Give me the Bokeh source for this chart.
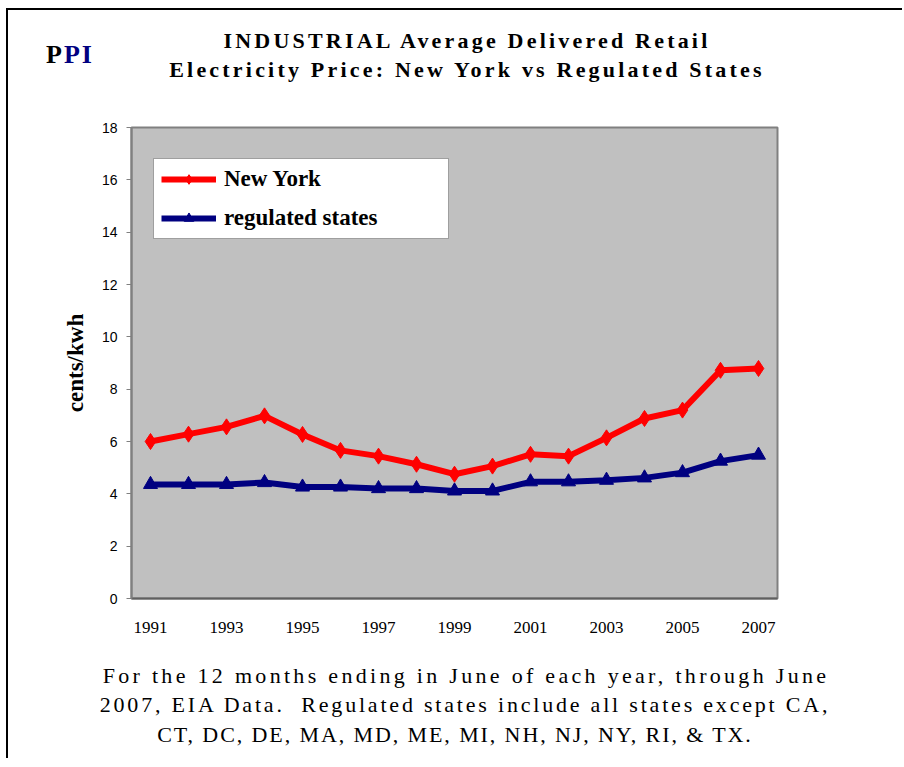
from bokeh.plotting import figure
from bokeh.models import Legend, LegendItem, FixedTicker, Range1d, Div
from bokeh.layouts import column
from bokeh.embed import file_html
from bokeh.resources import INLINE

# ---- data ----
years = [1991, 1992, 1993, 1994, 1995, 1996, 1997, 1998, 1999,
         2000, 2001, 2002, 2003, 2004, 2005, 2006, 2007]
new_york = [6.00, 6.28, 6.56, 6.98, 6.27, 5.66, 5.44, 5.13, 4.75,
            5.06, 5.51, 5.44, 6.14, 6.88, 7.20, 8.72, 8.79]
regulated = [4.36, 4.36, 4.36, 4.43, 4.26, 4.26, 4.20, 4.20, 4.11,
             4.11, 4.46, 4.46, 4.52, 4.61, 4.81, 5.25, 5.48]
x_tick_years = [1991, 1993, 1995, 1997, 1999, 2001, 2003, 2005, 2007]
y_ticks = [0, 2, 4, 6, 8, 10, 12, 14, 16, 18]

series_names = ["New York", "regulated states"]
title_lines = ["INDUSTRIAL Average Delivered Retail",
               "Electricity Price: New York vs Regulated States"]
note_lines = ["For the 12 months ending in June of each year, through June",
              "2007, EIA Data.&nbsp; Regulated states include all states except CA,",
              "CT, DC, DE, MA, MD, ME, MI, NH, NJ, NY, RI, &amp; TX."]

SERIF = "Liberation Serif"
SANS = "Liberation Sans"
W = 884

# ---- header (logo + title) ----
header_html = (
    f'<div style="position:relative;width:{W}px;height:95px;'
    f'font-family:\'{SERIF}\';color:black;">'
    '<div style="position:absolute;left:33px;top:25px;font-size:26px;'
    'line-height:30px;font-weight:bold;letter-spacing:2px;white-space:nowrap;color:#000000;">'
    'P<span style="color:#000080;">PI</span></div>'
    '<div style="position:absolute;left:454px;top:11px;transform:translateX(-50%);'
    'text-align:center;font-size:22px;line-height:29.4px;font-weight:bold;'
    'letter-spacing:3.2px;white-space:nowrap;">'
    + title_lines[0] + '<br>' + title_lines[1] + '</div></div>'
)
header = Div(text=header_html, width=W, height=95)

# ---- chart ----
p = figure(frame_width=646, frame_height=471,
           min_border_left=123, min_border_top=12,
           min_border_right=125, min_border_bottom=45,
           x_range=Range1d(1990.5, 2007.5), y_range=Range1d(0, 18),
           output_backend="svg", toolbar_location=None,
           background_fill_color="#C0C0C0", border_fill_color="white")

p.xgrid.visible = False
p.ygrid.visible = False
p.outline_line_color = "#808080"
p.outline_line_width = 2

r_ny = p.line(years, new_york, line_color="#FF0000", line_width=6)
s_ny = p.scatter(years, new_york, marker="diamond", size=16,
                 fill_color="#FF0000", line_color="#FF0000")
r_rg = p.line(years, regulated, line_color="#000080", line_width=6)
s_rg = p.scatter(years, regulated, marker="triangle", size=14,
                 fill_color="#000080", line_color="#000080")

xa = p.xaxis[0]
xa.ticker = FixedTicker(ticks=x_tick_years)
xa.major_tick_line_color = None
xa.minor_tick_line_color = None
xa.axis_line_color = "#606060"
xa.axis_line_width = 2
xa.major_label_text_font = SERIF
xa.major_label_text_font_size = "17px"
xa.major_label_text_color = "black"
xa.major_label_standoff = 17

ya = p.yaxis[0]
ya.ticker = FixedTicker(ticks=y_ticks)
ya.major_tick_out = 5
ya.major_tick_in = 0
ya.major_tick_line_color = "#808080"
ya.minor_tick_line_color = None
ya.axis_line_color = "#808080"
ya.axis_line_width = 2
ya.major_label_text_font = SANS
ya.major_label_text_font_size = "14px"
ya.major_label_text_color = "black"
ya.major_label_standoff = 9
ya.axis_label = "cents/kwh"
ya.axis_label_text_font = SERIF
ya.axis_label_text_font_style = "bold"
ya.axis_label_text_font_size = "23px"
ya.axis_label_text_color = "black"
ya.axis_label_standoff = 11

legend = Legend(items=[LegendItem(label=series_names[0], renderers=[r_ny, s_ny]),
                       LegendItem(label=series_names[1], renderers=[r_rg, s_rg])],
                location=(22, 359), margin=0, padding=7, spacing=13,
                glyph_width=55, glyph_height=24, label_height=24,
                label_width=217, label_standoff=8,
                label_text_font=SERIF, label_text_font_style="bold",
                label_text_font_size="23px", label_text_color="black",
                border_line_color="#404040", border_line_width=1,
                background_fill_color="white", background_fill_alpha=1.0)
p.add_layout(legend)

# ---- footnote ----
def note_line(cx, top, spacing, text):
    return ('<div style="position:absolute;left:%dpx;top:%dpx;transform:translateX(-50%%);'
            'font-size:22px;line-height:29.5px;letter-spacing:%.1fpx;white-space:nowrap;">%s</div>'
            % (cx, top, spacing, text))

footer_html = (
    f'<div style="position:relative;width:{W}px;height:105px;'
    f'font-family:\'{SERIF}\';color:black;">'
    + note_line(453, 13, 3.3, note_lines[0])
    + note_line(452, 42, 2.8, note_lines[1])
    + note_line(442, 72, 1.9, note_lines[2])
    + '</div>'
)
footer = Div(text=footer_html, width=W, height=105)

page = column(header, p, footer, spacing=0,
              styles={"border-top": "2px solid black",
                      "border-left": "2px solid black",
                      "margin-left": "6px", "margin-top": "8px"})

open("out.html", "w").write(file_html(page, INLINE))
